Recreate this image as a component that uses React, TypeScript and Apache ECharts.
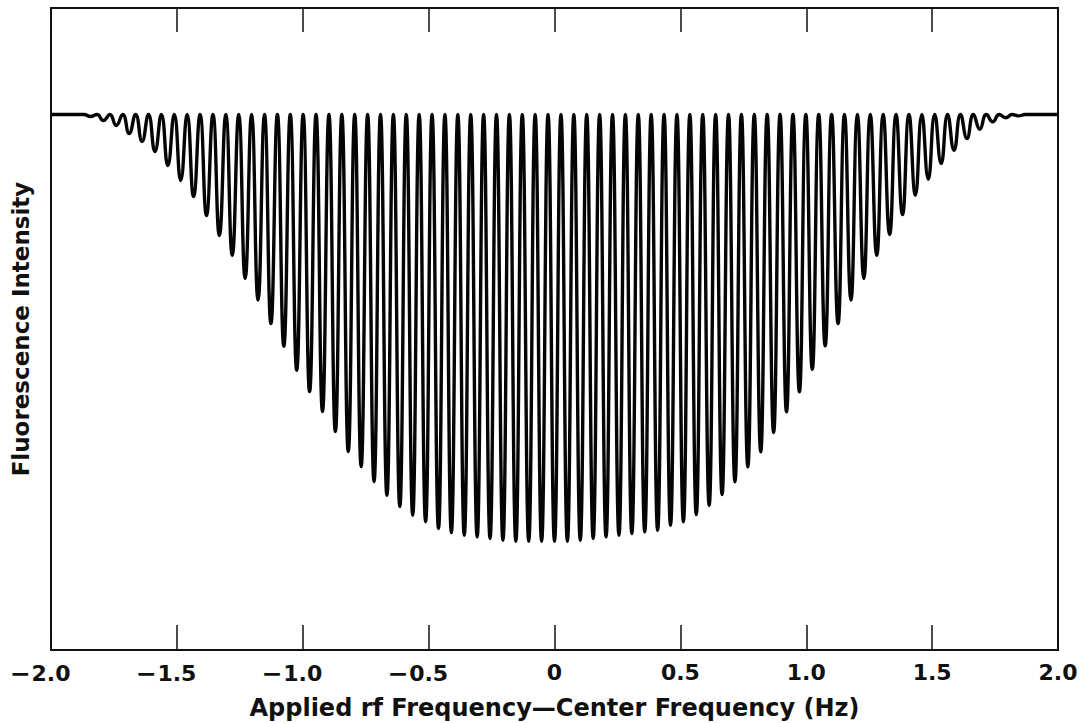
import React, { useEffect, useRef } from "react";
import * as echarts from "echarts";

// Fringe spacing (Hz) between adjacent minima
const FRINGE_SPACING = 0.0512;
// Level reached by the fringe maxima and by the flat wings (arbitrary intensity units, 0-100 frame)
const PEAK_LEVEL = 83.4;
// Fringe minima, from the -36th fringe to the +36th (centre fringe at index 36)
const troughDepths = [
  83.1, 82.48, 81.7, 80.45, 79.21, 77.65, 75.47, 73.13, 70.64, 67.68, 64.56, 61.45,
  57.87, 54.49, 50.86, 47.32, 43.58, 40.26, 37.15, 34.03, 30.92, 28.58, 26.25, 24.1,
  22.35, 21.0, 19.97, 18.93, 18.3, 17.88, 17.63, 17.37, 17.1, 16.95, 16.95, 16.95,
  16.95,
  16.95, 17.1, 17.37, 17.63, 17.88, 18.15, 18.41, 18.66, 19.44, 19.97, 21.1, 22.55,
  24.22, 26.2, 28.54, 30.87, 33.88, 37.1, 40.22, 43.74, 47.38, 50.86, 54.49, 57.87,
  61.45, 64.72, 67.83, 70.84, 73.33, 75.78, 77.85, 79.67, 81.12, 82.27, 82.9, 83.2,
];
const CENTER_INDEX = 36;
const X_MIN = -2;
const X_MAX = 2;
const tickLabels: Record<string, string> = {
  "-2": "2.0",
  "-1.5": "1.5",
  "-1": "1.0",
  "-0.5": "0.5",
  "0": "0",
  "0.5": "0.5",
  "1": "1.0",
  "1.5": "1.5",
  "2": "2.0",
};

function buildData(): [number, number][] {
  const pts: [number, number][] = [[X_MIN, PEAK_LEVEL]];
  const n = troughDepths.length;
  for (let i = 0; i < n; i++) {
    const k = i - CENTER_INDEX;
    pts.push([(k - 0.5) * FRINGE_SPACING, PEAK_LEVEL]);
    pts.push([k * FRINGE_SPACING, troughDepths[i]]);
  }
  pts.push([(n - 1 - CENTER_INDEX + 0.5) * FRINGE_SPACING, PEAK_LEVEL]);
  pts.push([X_MAX, PEAK_LEVEL]);
  return pts;
}

export default function App() {
  const ref = useRef<HTMLDivElement>(null);
  useEffect(() => {
    if (!ref.current) return;
    const chart = echarts.init(ref.current, null, { renderer: "svg" });
    const font = "'DejaVu Sans', 'Liberation Sans', Arial, sans-serif";
    const labelText = { color: "#111", fontSize: 22, fontWeight: "bold", fontFamily: font };
    chart.setOption({
      animation: false,
      backgroundColor: "#ffffff",
      grid: {
        left: 51,
        right: 24,
        top: 8,
        bottom: 73,
        show: true,
        borderColor: "#111",
        borderWidth: 2,
        outerBoundsMode: "none",
      },
      xAxis: [
        {
          type: "value",
          min: X_MIN,
          max: X_MAX,
          interval: 0.5,
          position: "bottom",
          axisLine: { show: true, onZero: false, lineStyle: { color: "#111", width: 2 } },
          axisTick: { show: true, inside: true, length: 25, lineStyle: { color: "#111", width: 1.5 } },
          splitLine: { show: false },
          axisLabel: {
            show: true,
            margin: 11,
            ...labelText,
            formatter: (v: number) => {
              const t = tickLabels[String(v)] ?? String(Math.abs(v));
              return v < 0 ? "{m|\u2212}{n|" + t + "}{p| }" : "{n|" + t + "}";
            },
            rich: {
              m: { ...labelText, fontSize: 25, width: 22, align: "right" },
              n: { ...labelText },
              p: { ...labelText, width: 22 },
            },
          },
          name: "Applied rf Frequency\u2014Center Frequency (Hz)",
          nameLocation: "middle",
          nameGap: 46,
          nameTextStyle: { color: "#111", fontSize: 24, fontWeight: "bold", fontFamily: font },
        },
        {
          type: "value",
          min: X_MIN,
          max: X_MAX,
          interval: 0.5,
          position: "top",
          axisLine: { show: true, onZero: false, lineStyle: { color: "#111", width: 2 } },
          axisTick: { show: true, inside: true, length: 24, lineStyle: { color: "#111", width: 1.5 } },
          axisLabel: { show: false },
          splitLine: { show: false },
        },
      ],
      yAxis: {
        type: "value",
        min: 0,
        max: 100,
        axisLine: { show: true, onZero: false, lineStyle: { color: "#111", width: 2 } },
        axisTick: { show: false },
        axisLabel: { show: false },
        splitLine: { show: false },
        name: "Fluorescence Intensity",
        nameLocation: "middle",
        nameGap: 19,
        nameTextStyle: { color: "#111", fontSize: 23, fontWeight: "bold", fontFamily: font },
      },
      series: [
        {
          type: "line",
          data: buildData(),
          showSymbol: false,
          smooth: true,
          lineStyle: { color: "#050505", width: 3.4 },
          silent: true,
        },
      ],
    });
    return () => chart.dispose();
  }, []);
  return (
    <div
      ref={ref}
      style={{ position: "absolute", left: 0, top: 0, width: 1082, height: 723 }}
    />
  );
}
